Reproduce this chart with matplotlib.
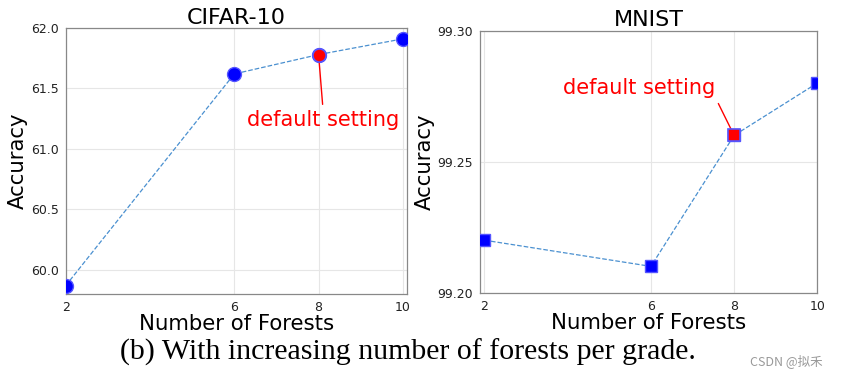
import matplotlib.pyplot as plt

forests = [2, 6, 8, 10]
cifar_acc = [59.87, 61.62, 61.78, 61.91]
mnist_acc = [99.22, 99.21, 99.26, 99.28]
cifar_ticks = [60.0, 60.5, 61.0, 61.5, 62.0]
mnist_ticks = [99.20, 99.25, 99.30]
default_idx = 2

plt.rcParams['font.family'] = ['DejaVu Sans']

fig = plt.figure(figsize=(8.47, 3.78), dpi=100)
ax1 = fig.add_axes([0.0776, 0.222, 0.403, 0.704])
ax2 = fig.add_axes([0.567, 0.226, 0.398, 0.693])

def style(ax):
    ax.grid(True, color='#e6e6e6', linewidth=0.8)
    ax.set_axisbelow(True)
    for s in ax.spines.values():
        s.set_color('#888888')
        s.set_linewidth(0.9)
    ax.tick_params(length=0, labelsize=9, colors='#222222', pad=5)
    ax.set_xticks(forests)
    ax.set_xlabel("Number of Forests", fontsize=15.3, labelpad=0)
    ax.set_ylabel("Accuracy", fontsize=15.3, labelpad=2)

# CIFAR-10
ax1.plot(forests, cifar_acc, '--', color='#4a90d0', linewidth=0.9, zorder=2)
ax1.plot(forests, cifar_acc, 'o', color='blue', markersize=10,
         markeredgecolor='#5555ff', markeredgewidth=1, zorder=3)
ax1.plot(forests[default_idx], cifar_acc[default_idx], 'o', color='red', markersize=9.5,
         markeredgecolor='#5555ff', markeredgewidth=1.2, zorder=4)
ax1.set_xlim(2, 10.1)
ax1.set_ylim(59.8, 62.0)
ax1.set_yticks(cifar_ticks)
ax1.set_yticklabels(["%.1f" % v for v in cifar_ticks])
ax1.set_title("CIFAR-10", fontsize=16, pad=3)
style(ax1)
ax1.annotate("default setting", xy=(forests[default_idx], cifar_acc[default_idx]),
             xytext=(6.3, 61.24), color='red', fontsize=15, va='center',
             arrowprops=dict(arrowstyle='-', color='red', lw=1,
                             relpos=(0.5, 1.0)))

# MNIST
ax2.plot(forests, mnist_acc, '--', color='#4a90d0', linewidth=0.9, zorder=2)
ax2.plot(forests, mnist_acc, 's', color='blue', markersize=9,
         markeredgecolor='#5555ff', markeredgewidth=1, zorder=3)
ax2.plot(forests[default_idx], mnist_acc[default_idx], 's', color='red', markersize=9,
         markeredgecolor='#5555ff', markeredgewidth=1.2, zorder=4)
ax2.set_xlim(1.9, 10)
ax2.set_ylim(99.20, 99.30)
ax2.set_yticks(mnist_ticks)
ax2.set_yticklabels(["%.2f" % v for v in mnist_ticks])
ax2.set_title("MNIST", fontsize=16, pad=3)
style(ax2)
ax2.annotate("default setting", xy=(forests[default_idx], mnist_acc[default_idx]),
             xytext=(3.9, 99.278), color='red', fontsize=15, va='center',
             arrowprops=dict(arrowstyle='-', color='red', lw=1,
                             relpos=(1.0, 0.0)))

fig.text(0.482, 0.068, "(b) With increasing number of forests per grade.",
         family='Liberation Serif', fontsize=21.5, ha='center', va='center')
fig.text(0.928, 0.045, "CSDN @拟禾", family=['Noto Sans CJK SC', 'DejaVu Sans'],
         fontsize=9, color='#999999', ha='center', va='center')

fig.savefig("out.png", dpi=100)
